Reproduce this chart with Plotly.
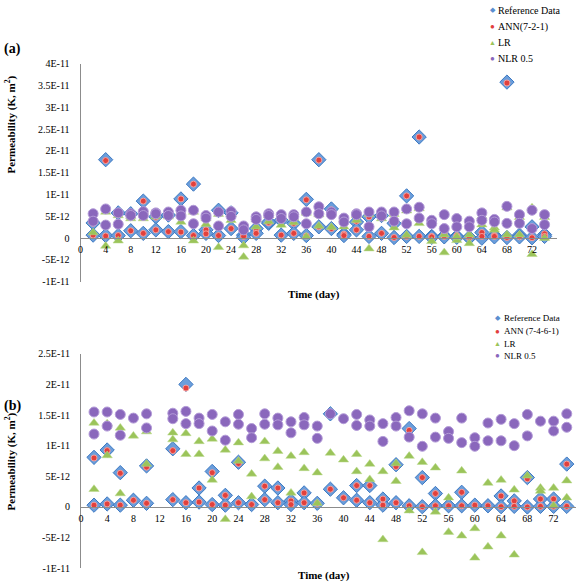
import plotly.graph_objects as go

W, H = 576, 588
SCALE = 1e-12  # values below are read in units of 1E-12 m^2

# ---------------- Panel (a) ----------------
days_a = [2, 2, 4, 4, 6, 6, 8, 8, 10, 10, 12, 12, 14, 14, 16, 16, 18, 18, 20, 20,
          22, 22, 24, 24, 26, 26, 28, 28, 30, 30, 32, 32, 34, 34, 36, 36, 38, 38,
          40, 40, 42, 42, 44, 44, 46, 46, 48, 48, 50, 50, 52, 52, 54, 54, 56, 56,
          58, 58, 60, 60, 62, 62, 64, 64, 66, 66, 68, 68, 70, 70, 72, 72, 74, 74]
ref_a = [3.5, 0.7, 18.0, 0.6, 5.8, 0.6, 5.6, 1.7, 8.5, 1.1, 4.9, 1.9, 5.3, 1.5, 9.0, 1.5,
         12.4, 0.6, 1.9, 1.1, 6.4, 0.6, 5.8, 2.2, 0.7, 0.2, 2.2, 1.1, 3.4, 3.7, 4.1, 0.7,
         3.4, 1.1, 8.9, 0.6, 18.0, 2.6, 6.7, 2.2, 0.9, 0.6, 3.7, 1.9, 4.9, 0.4, 5.2, 1.1,
         3.4, 0.15, 9.7, 0.4, 23.2, 0.4, 0.4, 0.2, 0.5, 0.3, 0.4, 0.2, 0.15, 0.1, 1.3, 0.0,
         0.6, 0.3, 35.8, 0.15, 0.7, 0.3, 2.6, 0.1, 0.8, 0.4]
ann_a = [3.4, 0.7, 17.8, 0.5, 5.6, 0.6, 5.5, 1.7, 8.5, 1.1, 4.8, 1.9, 5.2, 1.5, 9.0, 1.4,
         12.4, 0.6, 1.9, 1.0, 6.2, 0.6, 5.6, 2.2, 0.7, 0.4, 2.1, 1.1, 3.5, 3.6, 4.0, 0.7,
         3.4, 1.1, 8.8, 0.5, 17.9, 2.6, 6.5, 2.2, 0.9, 0.6, 3.9, 1.9, 4.9, 0.4, 5.0, 1.1,
         3.3, 0.15, 9.7, 0.4, 23.2, 0.4, 0.4, 0.3, 1.1, 0.4, 0.6, 0.3, 0.2, 0.15, 1.3, 0.4,
         0.6, 0.4, 35.6, 0.15, 0.6, 0.3, 2.2, 0.1, 1.0, 0.4]
lr_a = [1.3, 3.8, 6.0, -1.8, 5.2, -0.6, 4.5, 5.0, 4.5, 6.0, 4.9, 5.5, 4.9, 5.8, 3.7, 6.0,
        6.0, -0.6, 3.2, 4.5, 5.5, -2.1, 4.1, 5.5, -1.7, -4.3, 2.6, 4.3, 5.2, 3.8, 3.0, 4.6,
        4.6, 3.6, 0.3, 5.8, 5.4, 2.8, 5.8, 2.5, 2.6, 4.3, 4.1, 5.2, -2.4, 5.5, 4.5, 5.8,
        2.4, 5.5, 0.7, 6.3, 3.4, 6.8, -0.7, 3.8, -3.3, 0.8, -0.5, 0.3, -1.2, 0.8, 3.1, 5.0,
        2.4, 1.9, 0.8, 7.0, 0.8, 4.8, -3.7, 7.0, 0.0, 4.8]
nlr_a = [5.6, 3.9, 6.7, 3.0, 5.8, 3.2, 5.6, 5.2, 6.1, 5.2, 5.8, 5.6, 6.0, 5.2, 6.4, 5.1,
         6.4, 3.3, 5.2, 4.6, 6.0, 2.8, 6.1, 5.0, 2.8, 1.9, 4.9, 4.3, 5.6, 5.2, 5.4, 4.5,
         5.4, 4.9, 6.0, 3.3, 7.2, 5.6, 6.0, 5.4, 4.6, 3.7, 5.6, 5.4, 6.0, 2.6, 6.0, 5.1,
         6.0, 3.9, 6.7, 3.3, 7.1, 4.6, 4.1, 3.3, 5.4, 2.2, 4.5, 2.6, 3.9, 2.6, 5.8, 4.1,
         4.3, 3.7, 7.3, 3.4, 5.4, 3.4, 6.4, 2.2, 5.4, 3.1]

# ---------------- Panel (b) ----------------
ref_b_days = [2, 2, 4, 4, 6, 6, 8, 10, 10, 14, 14, 16, 16, 18, 18, 20, 20, 22, 22, 24, 24,
              26, 28, 28, 30, 30, 32, 32, 34, 34, 36, 38, 38, 40, 42, 42, 44, 44, 46, 46,
              48, 48, 50, 50, 52, 52, 54, 54, 56, 58, 58, 60, 62, 64, 64, 66, 66, 68, 68,
              70, 70, 72, 72, 74, 74]
ref_b = [8.1, 0.3, 9.3, 0.5, 5.6, 0.3, 1.1, 6.7, 0.6, 9.5, 1.2, 20.0, 0.7, 3.1, 0.8, 5.8, 0.4,
         1.9, 0.3, 7.3, 0.7, 0.4, 3.4, 1.2, 3.1, 0.7, 1.0, 0.4, 2.3, 0.7, 0.6, 15.2, 2.9, 1.5,
         3.5, 1.1, 3.5, 0.7, 1.3, 0.3, 6.9, 0.7, 12.8, 0.2, 4.8, 0.05, 2.2, 0.2, 0.2, 2.4, 0.2,
         0.3, 0.2, 1.8, 0.05, 1.0, 0.1, 4.8, 0.0, 1.3, 0.1, 1.3, 0.1, 7.0, 0.1]
ann_b_days = [2, 2, 4, 4, 6, 6, 8, 10, 10, 14, 14, 16, 16, 18, 18, 20, 20, 22, 22, 24, 24,
              26, 28, 28, 30, 30, 32, 32, 34, 34, 36, 38, 40, 42, 42, 44, 44, 46, 46,
              48, 48, 50, 50, 52, 52, 54, 54, 56, 58, 58, 60, 62, 64, 64, 66, 66, 68, 68,
              70, 70, 72, 72, 74, 74]
ann_b = [8.0, 0.3, 9.2, 0.5, 5.5, 0.3, 1.1, 6.5, 0.6, 9.2, 1.2, 19.4, 0.7, 3.1, 0.8, 5.6, 0.4,
         1.9, 0.3, 7.1, 0.7, 0.4, 3.4, 1.2, 3.1, 0.7, 1.0, 0.4, 2.3, 0.7, 0.6, 2.9, 1.5,
         3.5, 1.1, 3.5, 0.7, 1.3, 0.3, 6.6, 0.7, 12.5, 0.2, 4.8, 0.05, 2.2, 0.2, 0.2, 2.4, 0.2,
         0.3, 0.2, 1.8, 0.05, 1.0, 0.1, 4.6, 0.0, 1.3, 0.1, 1.3, 0.1, 7.0, 0.1]
lr_b_days = [2, 2, 4, 4, 6, 6, 8, 10, 10, 14, 14, 16, 16, 18, 18, 20, 20, 22, 22, 24, 24,
             26, 26, 28, 28, 30, 30, 32, 32, 34, 34, 36, 36, 38, 40, 42, 42, 44, 44, 46, 46,
             48, 48, 50, 50, 52, 52, 54, 54, 56, 56, 58, 58, 60, 60, 62, 62, 64, 64, 66, 66,
             68, 70, 70, 72, 72, 74, 74]
lr_b = [13.7, 2.9, 8.4, 13.6, 12.9, 2.2, 11.6, 12.3, 7.0, 12.1, 11.0, 12.0, 8.6, 10.7, 8.6,
        11.1, 4.4, 9.3, -2.0, 10.5, 7.5, 5.4, 1.7, 10.7, 7.9, 9.1, 6.5, 8.3, 2.3, 8.9, 6.3,
        5.6, 0.6, 8.8, 7.7, 8.6, 5.8, 7.0, 4.5, 5.8, -5.3, 7.1, 4.2, 8.3, -0.6, 7.3, -7.4,
        6.4, -0.8, 1.5, -4.1, 5.9, -4.7, -3.5, -8.3, 3.9, -6.5, 4.4, -4.7, 2.8, -7.8,
        5.1, 3.1, 2.6, 3.1, 0.2, 4.3, 1.5]
nlr_b_days = [2, 2, 4, 4, 6, 6, 8, 10, 10, 14, 14, 16, 16, 18, 18, 20, 20, 22, 22, 24, 24,
              26, 26, 28, 28, 30, 30, 32, 32, 34, 34, 36, 36, 38, 40, 42, 42, 44, 44, 46, 46,
              48, 48, 50, 50, 52, 52, 54, 54, 56, 56, 58, 58, 60, 60, 62, 62, 64, 64, 66, 66,
              68, 68, 70, 72, 72, 74, 74]
nlr_b = [15.5, 11.9, 15.5, 13.2, 15.1, 11.7, 14.5, 15.2, 12.9, 15.3, 14.4, 15.6, 13.6,
         14.5, 13.6, 15.1, 12.4, 13.9, 10.9, 15.1, 13.5, 12.8, 11.3, 15.2, 13.5, 14.5, 13.4,
         13.9, 12.1, 14.6, 13.4, 13.2, 11.2, 15.2, 14.4, 15.1, 13.3, 14.2, 13.2, 13.6, 10.7,
         14.6, 13.2, 15.7, 11.4, 15.2, 9.9, 14.5, 11.4, 12.3, 11.2, 14.5, 10.5, 11.3, 9.9,
         13.7, 10.8, 14.3, 10.8, 13.6, 10.0, 15.1, 11.6, 14.0, 14.0, 12.4, 15.2, 13.0]

# tick labels
x_ticks = list(range(0, 73, 4))
y_ticks_a = [-1e-11, -5e-12, 0, 5e-12, 1e-11, 1.5e-11, 2e-11, 2.5e-11, 3e-11, 3.5e-11, 4e-11]
y_text_a = ["-1E-11", "-5E-12", "0", "5E-12", "1E-11", "1.5E-11", "2E-11", "2.5E-11",
            "3E-11", "3.5E-11", "4E-11"]
y_ticks_b = [-1e-11, -5e-12, 0, 5e-12, 1e-11, 1.5e-11, 2e-11, 2.5e-11]
y_text_b = ["-1E-11", "-5E-12", "0", "5E-12", "1E-11", "1.5E-11", "2E-11", "2.5E-11"]

legend_a = ["Reference Data", "ANN(7-2-1)", "LR", "NLR 0.5"]
legend_b = ["Reference Data", "ANN (7-4-6-1)", "LR", "NLR 0.5"]

FONT = "Liberation Serif"
STY = {
    "ref": dict(symbol="diamond", size=11, color="#6B9EDB", line=dict(color="#3C78C2", width=1)),
    "ann": dict(symbol="circle", size=6, color="#E2403C", line=dict(color="#F5A09E", width=1)),
    "lr": dict(symbol="triangle-up", size=9, color="#9BC45A", line=dict(color="#B9D98A", width=0.5)),
    "nlr": dict(symbol="circle", size=10, color="#8A67BC", line=dict(color="#B39BD8", width=1)),
}
GLYPH = {"ref": ("◆", "#5B8FD0", 7), "ann": ("●", "#E2403C", 8),
         "lr": ("▲", "#9BC45A", 7), "nlr": ("●", "#8A67BC", 8)}


def scaled(vals):
    return [v * SCALE for v in vals]


fig = go.Figure()
panel_a = [("ref", days_a, ref_a), ("ann", days_a, ann_a), ("lr", days_a, lr_a), ("nlr", days_a, nlr_a)]
panel_b = [("ref", ref_b_days, ref_b), ("ann", ann_b_days, ann_b), ("lr", lr_b_days, lr_b),
           ("nlr", nlr_b_days, nlr_b)]
for key, dd, vv in panel_a:
    fig.add_trace(go.Scatter(x=dd, y=scaled(vv), mode="markers", marker=STY[key],
                             xaxis="x", yaxis="y", showlegend=False, cliponaxis=False))
for key, dd, vv in panel_b:
    fig.add_trace(go.Scatter(x=dd, y=scaled(vv), mode="markers", marker=STY[key],
                             xaxis="x2", yaxis="y2", showlegend=False, cliponaxis=False))


def px_x(p):
    return p / W


def px_y(p):
    return 1 - p / H


AX_COLOR = "#8C8C8C"
tickfont = dict(family=FONT, size=10, color="black")

ya_dom = [px_y(281.5), px_y(59)]
yb_dom = [px_y(574), px_y(355)]
fig.update_layout(
    width=W, height=H, margin=dict(l=0, r=0, t=0, b=0),
    paper_bgcolor="white", plot_bgcolor="white", showlegend=False,
    xaxis=dict(domain=[px_x(78), px_x(557)], range=[0, 76], anchor="free",
               position=px_y(236.7), showline=True, linecolor=AX_COLOR, linewidth=1,
               showgrid=False, zeroline=False, tickvals=x_ticks, tickfont=tickfont,
               ticks="", ticklabelstandoff=2),
    yaxis=dict(domain=ya_dom, range=[-1e-11, 4e-11], anchor="x", showline=True,
               linecolor=AX_COLOR, linewidth=1, showgrid=False, zeroline=False,
               tickvals=y_ticks_a, ticktext=y_text_a, tickfont=tickfont, ticks="",
               ticklabelstandoff=8),
    xaxis2=dict(domain=[px_x(78.3), 1.0], range=[0, (W - 78.3) / 6.6], anchor="free",
                position=px_y(511), showline=True, linecolor=AX_COLOR, linewidth=1,
                showgrid=False, zeroline=False, tickvals=x_ticks, tickfont=tickfont,
                ticks="", ticklabelstandoff=2),
    yaxis2=dict(domain=yb_dom, range=[-1e-11, 2.5e-11], anchor="x2", showline=True,
                linecolor=AX_COLOR, linewidth=1, showgrid=False, zeroline=False,
                tickvals=y_ticks_b, ticktext=y_text_b, tickfont=tickfont, ticks="",
                ticklabelstandoff=8),
)

ann = []


def add_text(x, y, text, size=11, bold=False, angle=0, xanchor="center", color="black"):
    ann.append(dict(x=px_x(x), y=px_y(y), xref="paper", yref="paper", showarrow=False,
                    text=f"<b>{text}</b>" if bold else text, textangle=angle,
                    xanchor=xanchor, yanchor="middle",
                    font=dict(family=FONT, size=size, color=color)))


add_text(10, 44, "(a)", size=14, bold=True)
add_text(10, 408, "(b)", size=14, bold=True)
add_text(313, 294, "Time (day)", size=11, bold=True)
add_text(323, 581, "Time (day)", size=11, bold=True)
add_text(8, 121, "Permeability (K, m<sup>2</sup>)", size=11, bold=True, angle=-90)
add_text(8, 465, "Permeability (K, m<sup>2</sup>)", size=11, bold=True, angle=-90)

keys = ["ref", "ann", "lr", "nlr"]
for i, (k, lab) in enumerate(zip(keys, legend_a)):
    yy = [4.5, 21, 37.5, 54][i]
    g, c, s = GLYPH[k]
    add_text(492.5, yy, g, size=s, color=c)
    add_text(496, yy, lab, size=10, xanchor="left")
for i, (k, lab) in enumerate(zip(keys, legend_b)):
    yy = [318.5, 332, 345, 357][i]
    g, c, s = GLYPH[k]
    add_text(497.5, yy, g, size=s, color=c)
    add_text(501.5, yy, lab, size=9, xanchor="left")

fig.update_layout(annotations=ann)
fig.write_html("out.html", config={"displayModeBar": False},
               post_script="document.body.style.margin='0px';document.body.style.padding='0px';")
